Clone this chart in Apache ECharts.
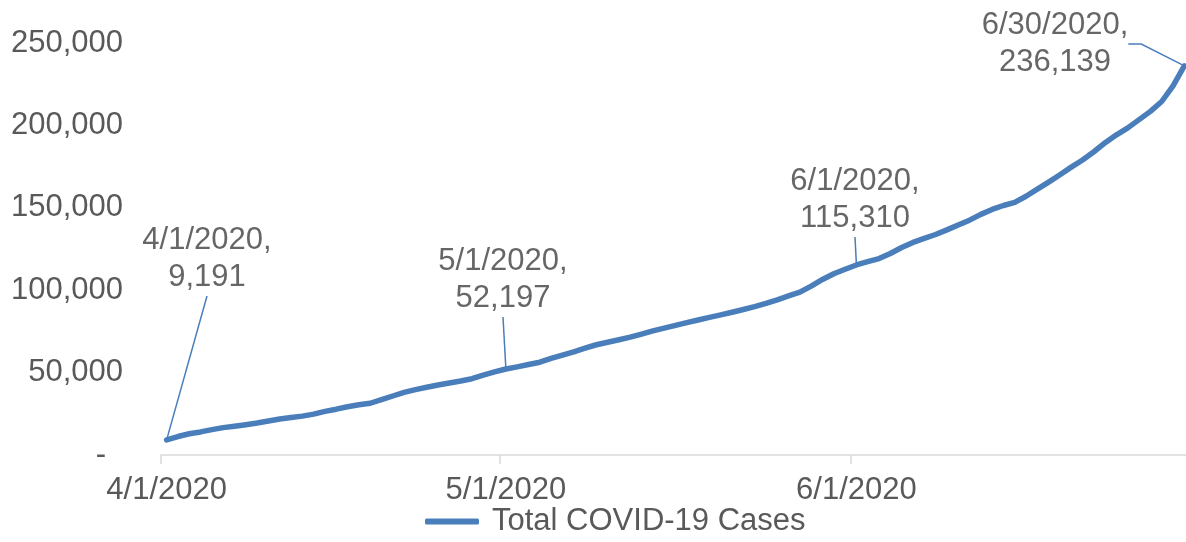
<!DOCTYPE html>
<html>
<head>
<meta charset="utf-8">
<script src="https://cdn.jsdelivr.net/npm/echarts@6/dist/echarts.min.js"></script>
<style>
  html, body { margin: 0; padding: 0; background: #fff; }
  #main { width: 1186px; height: 542px; }
</style>
</head>
<body>
<div id="main"></div>
<script>
// daily dates, 4/1 .. 6/30
var dates = [
  '4/1/2020','4/2/2020','4/3/2020','4/4/2020','4/5/2020','4/6/2020','4/7/2020','4/8/2020','4/9/2020','4/10/2020',
  '4/11/2020','4/12/2020','4/13/2020','4/14/2020','4/15/2020','4/16/2020','4/17/2020','4/18/2020','4/19/2020','4/20/2020',
  '4/21/2020','4/22/2020','4/23/2020','4/24/2020','4/25/2020','4/26/2020','4/27/2020','4/28/2020','4/29/2020','4/30/2020',
  '5/1/2020','5/2/2020','5/3/2020','5/4/2020','5/5/2020','5/6/2020','5/7/2020','5/8/2020','5/9/2020','5/10/2020',
  '5/11/2020','5/12/2020','5/13/2020','5/14/2020','5/15/2020','5/16/2020','5/17/2020','5/18/2020','5/19/2020','5/20/2020',
  '5/21/2020','5/22/2020','5/23/2020','5/24/2020','5/25/2020','5/26/2020','5/27/2020','5/28/2020','5/29/2020','5/30/2020',
  '5/31/2020','6/1/2020','6/2/2020','6/3/2020','6/4/2020','6/5/2020','6/6/2020','6/7/2020','6/8/2020','6/9/2020',
  '6/10/2020','6/11/2020','6/12/2020','6/13/2020','6/14/2020','6/15/2020','6/16/2020','6/17/2020','6/18/2020','6/19/2020',
  '6/20/2020','6/21/2020','6/22/2020','6/23/2020','6/24/2020','6/25/2020','6/26/2020','6/27/2020','6/28/2020','6/29/2020',
  '6/30/2020'
];

// Total COVID-19 Cases (exact where labelled)
var cases = [
  9191, 11200, 12900, 14000, 15400, 16600, 17500, 18400, 19400, 20600,
  21800, 22700, 23600, 24800, 26500, 27800, 29300, 30500, 31400, 33600,
  35800, 38000, 39700, 41100, 42500, 43700, 44900, 46300, 48500, 50400,
  52197, 53500, 54900, 56300, 58600, 60600, 62600, 64800, 66900, 68400,
  69900, 71500, 73400, 75300, 77000, 78700, 80300, 81900, 83500, 85000,
  86600, 88300, 90000, 92000, 94200, 96500, 98800, 102500, 106500, 110000,
  112700, 115310, 117300, 119200, 122300, 125900, 129000, 131400, 133800, 136600,
  139600, 142500, 146000, 149000, 151400, 153300, 157000, 161300, 165600, 170100,
  174700, 179000, 184000, 189500, 194300, 198500, 203500, 208500, 214500, 224000,
  236139
];

var seriesName = 'Total COVID-19 Cases';
var tickLabels = ['4/1/2020', '5/1/2020', '6/1/2020'];
var calloutDates = ['4/1/2020', '5/1/2020', '6/1/2020', '6/30/2020'];

// where the callout texts sit (centre, px), same order as calloutDates
var calloutPos = [[207, 259], [503, 280], [855, 200], [1055, 44]];

var font = '"Liberation Sans", Arial, sans-serif';
var blue = '#4a7ebb';

var tickIdx = tickLabels.map(function (d) { return dates.indexOf(d); });
var callouts = calloutDates.map(function (d, i) {
  var item = { value: [d, cases[dates.indexOf(d)]] };
  if (i === calloutDates.length - 1) item.labelLine = { length2: 13 };
  return item;
});

var chart = echarts.init(document.getElementById('main'));
chart.setOption({
  animation: false,
  backgroundColor: '#fff',
  textStyle: { fontFamily: font },
  grid: { left: 161, right: -4, top: 43, bottom: 87, outerBoundsMode: 'none' },
  legend: {
    data: [{ name: seriesName, icon: 'roundRect' }],
    left: 425,
    top: 506,
    padding: 0,
    itemWidth: 54,
    itemHeight: 6,
    itemStyle: { color: blue },
    textStyle: { fontSize: 31, color: '#595959', lineHeight: 31, padding: [0, 0, 0, 8] }
  },
  xAxis: {
    type: 'category',
    data: dates,
    boundaryGap: true,
    axisLine: { lineStyle: { color: '#d9d9d9', width: 1.5 } },
    axisTick: {
      show: true,
      length: 9,
      interval: function (i) { return tickIdx.indexOf(i) >= 0; },
      lineStyle: { color: '#d9d9d9', width: 1.5 }
    },
    axisLabel: {
      interval: function (i) { return tickIdx.indexOf(i) >= 0; },
      fontSize: 31,
      lineHeight: 31,
      color: '#595959',
      margin: 20
    },
    splitLine: { show: false }
  },
  yAxis: {
    type: 'value',
    min: 0,
    max: 250000,
    interval: 50000,
    axisLine: { show: false },
    axisTick: { show: false },
    splitLine: { show: false },
    axisLabel: {
      fontSize: 31,
      color: '#595959',
      margin: 38,
      formatter: function (v) {
        return v === 0 ? '{z|-}' : v.toLocaleString('en-US');
      },
      rich: { z: { fontSize: 31, color: '#595959', padding: [0, 17, 0, 0] } }
    }
  },
  series: [
    {
      name: seriesName,
      type: 'line',
      data: cases,
      symbol: 'none',
      lineStyle: { color: blue, width: 5.5, cap: 'round', join: 'round' },
      itemStyle: { color: blue }
    },
    {
      name: 'callouts',
      type: 'scatter',
      data: callouts,
      symbolSize: 2,
      itemStyle: { color: blue },
      silent: true,
      z: 5,
      label: {
        show: true,
        fontSize: 31,
        lineHeight: 37,
        color: '#404040',
        align: 'center',
        formatter: function (p) {
          return p.value[0] + ',\n' + p.value[1].toLocaleString('en-US');
        }
      },
      labelLine: {
        show: true,
        length2: 0,
        minTurnAngle: 0,
        lineStyle: { color: blue, width: 1.5 }
      },
      labelLayout: function (p) {
        var c = calloutPos[p.dataIndex];
        return { x: c[0], y: c[1], align: 'center', verticalAlign: 'middle' };
      }
    }
  ]
});
</script>
</body>
</html>
